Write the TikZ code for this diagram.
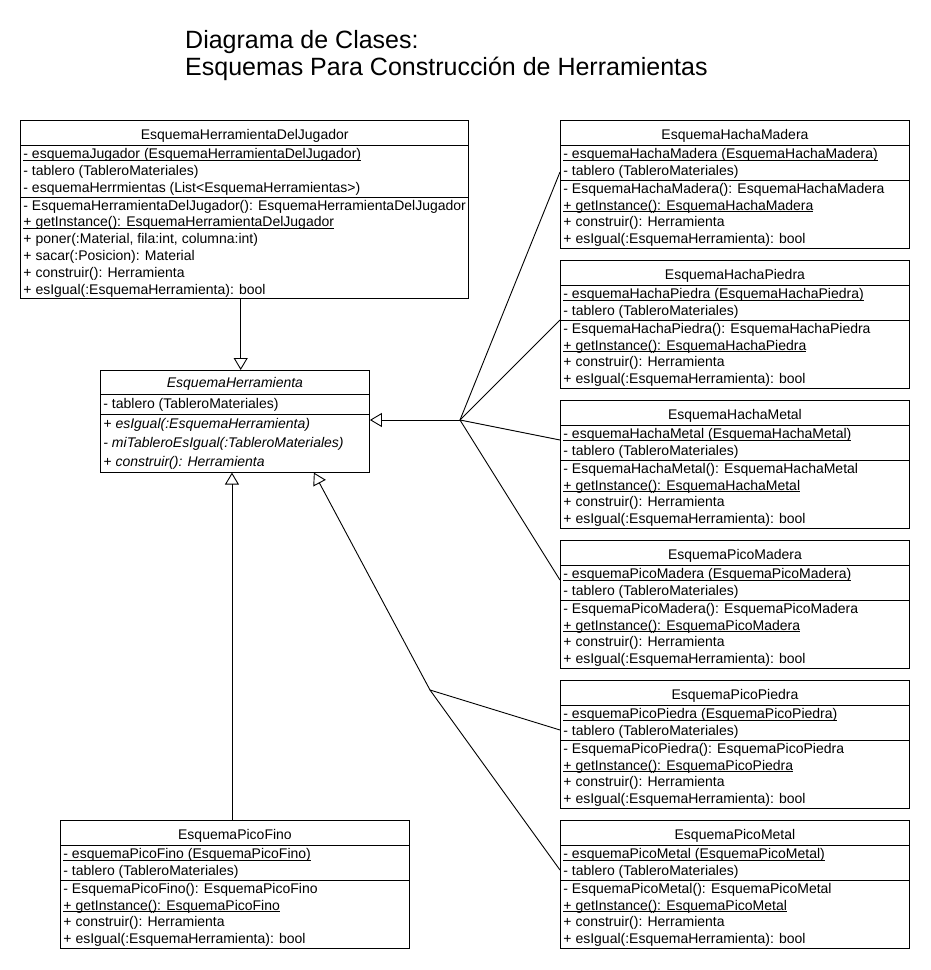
\documentclass[tikz,border=0pt]{standalone}
\usepackage{fontspec}
\setmainfont{Liberation Sans}
\usetikzlibrary{shapes.multipart,arrows.meta,calc}
\tikzset{clase/.style={draw,rectangle split,rectangle split parts=3,rectangle split part align={center,left,left},align=left,inner xsep=3pt,inner ysep=0pt,anchor=north west,font=\fontsize{14}{16.8}\selectfont,line width=0.9pt},
         herencia/.style={-{Triangle[open,length=12pt,width=14pt]},line width=0.9pt},
         linea/.style={line width=0.9pt}
}
\newcommand{\fila}{\rule[-4.4pt]{0pt}{16.8pt}}
\newcommand{\filah}{\rule[-5.5pt]{0pt}{19pt}}
\newcommand{\cabeza}{\rule[-6pt]{0pt}{24.5pt}}
\newsavebox{\cajasub}
\newcommand{\subr}[1]{\sbox{\cajasub}{#1}\rlap{\rule[-2pt]{\wd\cajasub}{0.9pt}}\usebox{\cajasub}}

\begin{document}
\begin{tikzpicture}[x=1pt,y=1pt,yscale=-1]
\useasboundingbox (0,0) rectangle (930,970);

% Titulo
\node[anchor=north west,inner sep=0pt,align=left,font=\fontsize{25}{27}\selectfont] (titulo) at (185,30) {Diagrama de Clases:\\Esquemas Para Construcción de Herramientas};

% Clase: EsquemaHerramientaDelJugador
\node[clase,minimum width=448pt] (jugador) at (20,120) {\cabeza EsquemaHerramientaDelJugador
\nodepart{second}\fila\subr{- esquemaJugador (EsquemaHerramientaDelJugador)}\\\fila- tablero (TableroMateriales)\\\fila- esquemaHerrmientas (List<EsquemaHerramientas>)
\nodepart{third}\fila- EsquemaHerramientaDelJugador(): EsquemaHerramientaDelJugador\\\fila\subr{+ getInstance(): EsquemaHerramientaDelJugador}\\\fila+ poner(:Material, fila:int, columna:int)\\\fila+ sacar(:Posicion): Material\\\fila+ construir(): Herramienta\\\fila+ esIgual(:EsquemaHerramienta): bool};

% Clase abstracta: EsquemaHerramienta
\node[clase,minimum width=269pt,font=\fontsize{14}{19}\selectfont] (herr) at (100,370) {\rule[-6pt]{0pt}{23pt}\textit{EsquemaHerramienta}
\nodepart{second}\filah- tablero (TableroMateriales)
\nodepart{third}\filah\textit{+ esIgual(:EsquemaHerramienta)}\\\filah\textit{- miTableroEsIgual(:TableroMateriales)}\\\filah\textit{+ construir(): Herramienta}};

% Clase: EsquemaHachaMadera
\node[clase,minimum width=349pt] (hachamadera) at (560,120) {\cabeza EsquemaHachaMadera
\nodepart{second}\fila\subr{- esquemaHachaMadera (EsquemaHachaMadera)}\\\fila- tablero (TableroMateriales)
\nodepart{third}\fila- EsquemaHachaMadera(): EsquemaHachaMadera\\\fila\subr{+ getInstance(): EsquemaHachaMadera}\\\fila+ construir(): Herramienta\\\fila+ esIgual(:EsquemaHerramienta): bool};

% Clase: EsquemaHachaPiedra
\node[clase,minimum width=349pt] (hachapiedra) at (560,260) {\cabeza EsquemaHachaPiedra
\nodepart{second}\fila\subr{- esquemaHachaPiedra (EsquemaHachaPiedra)}\\\fila- tablero (TableroMateriales)
\nodepart{third}\fila- EsquemaHachaPiedra(): EsquemaHachaPiedra\\\fila\subr{+ getInstance(): EsquemaHachaPiedra}\\\fila+ construir(): Herramienta\\\fila+ esIgual(:EsquemaHerramienta): bool};

% Clase: EsquemaHachaMetal
\node[clase,minimum width=349pt] (hachametal) at (560,400) {\cabeza EsquemaHachaMetal
\nodepart{second}\fila\subr{- esquemaHachaMetal (EsquemaHachaMetal)}\\\fila- tablero (TableroMateriales)
\nodepart{third}\fila- EsquemaHachaMetal(): EsquemaHachaMetal\\\fila\subr{+ getInstance(): EsquemaHachaMetal}\\\fila+ construir(): Herramienta\\\fila+ esIgual(:EsquemaHerramienta): bool};

% Clase: EsquemaPicoMadera
\node[clase,minimum width=349pt] (picomadera) at (560,540) {\cabeza EsquemaPicoMadera
\nodepart{second}\fila\subr{- esquemaPicoMadera (EsquemaPicoMadera)}\\\fila- tablero (TableroMateriales)
\nodepart{third}\fila- EsquemaPicoMadera(): EsquemaPicoMadera\\\fila\subr{+ getInstance(): EsquemaPicoMadera}\\\fila+ construir(): Herramienta\\\fila+ esIgual(:EsquemaHerramienta): bool};

% Clase: EsquemaPicoPiedra
\node[clase,minimum width=349pt] (picopiedra) at (560,680) {\cabeza EsquemaPicoPiedra
\nodepart{second}\fila\subr{- esquemaPicoPiedra (EsquemaPicoPiedra)}\\\fila- tablero (TableroMateriales)
\nodepart{third}\fila- EsquemaPicoPiedra(): EsquemaPicoPiedra\\\fila\subr{+ getInstance(): EsquemaPicoPiedra}\\\fila+ construir(): Herramienta\\\fila+ esIgual(:EsquemaHerramienta): bool};

% Clase: EsquemaPicoMetal
\node[clase,minimum width=349pt] (picometal) at (560,820) {\cabeza EsquemaPicoMetal
\nodepart{second}\fila\subr{- esquemaPicoMetal (EsquemaPicoMetal)}\\\fila- tablero (TableroMateriales)
\nodepart{third}\fila- EsquemaPicoMetal(): EsquemaPicoMetal\\\fila\subr{+ getInstance(): EsquemaPicoMetal}\\\fila+ construir(): Herramienta\\\fila+ esIgual(:EsquemaHerramienta): bool};

% Clase: EsquemaPicoFino
\node[clase,minimum width=349pt] (picofino) at (60,820) {\cabeza EsquemaPicoFino
\nodepart{second}\fila\subr{- esquemaPicoFino (EsquemaPicoFino)}\\\fila- tablero (TableroMateriales)
\nodepart{third}\fila- EsquemaPicoFino(): EsquemaPicoFino\\\fila\subr{+ getInstance(): EsquemaPicoFino}\\\fila+ construir(): Herramienta\\\fila+ esIgual(:EsquemaHerramienta): bool};

% Puntos de union
\coordinate (union1) at (460,420);
\coordinate (union2) at (430,690);

% Herencias
\draw[herencia] ([xshift=-4pt]jugador.south) -- ([xshift=-4pt]jugador.south |- herr.north);
\draw[herencia] ([xshift=-3pt]picofino.north) -- ([xshift=-3pt]picofino.north |- herr.south);
\draw[herencia] (union1) -- (union1 -| herr.east);
\draw[herencia] (union2) -- ($(herr.south east)+(-56,0)$);

\draw[linea] (union1) -- ($(hachamadera.north west)+(0,52)$);
\draw[linea] (union1) -- ($(hachapiedra.north west)+(0,60)$);
\draw[linea] (union1) -- ($(hachametal.north west)+(0,40)$);
\draw[linea] (union1) -- ($(picomadera.north west)+(0,40)$);
\draw[linea] (union2) -- ($(picopiedra.north west)+(0,50)$);
\draw[linea] (union2) -- ($(picometal.north west)+(0,50)$);

\end{tikzpicture}
\end{document}
